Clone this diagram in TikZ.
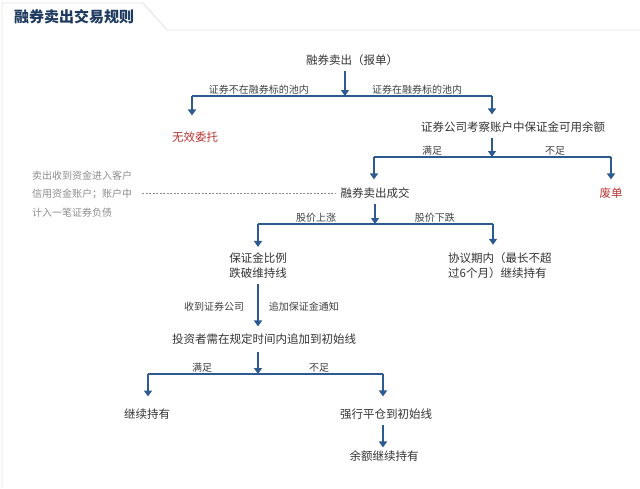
\documentclass[tikz,border=0pt]{standalone}
\usepackage{fontspec}
\setmainfont{Noto Sans CJK SC}
\usetikzlibrary{arrows.meta}
\definecolor{flow}{HTML}{2D5A91}
\definecolor{ttl}{HTML}{1E3A5F}
\definecolor{bad}{HTML}{B83232}

\begin{document}
\begin{tikzpicture}[x=1pt,y=-1pt,
   txt/.style={font=\fontsize{11.5}{15}\selectfont, text=black!80, inner sep=1pt},
   warn/.style={txt, text=bad},
   lab/.style={font=\fontsize{10}{12}\selectfont, text=black!75, inner sep=1pt},
   note/.style={font=\fontsize{10}{18.5}\selectfont, text=black!45, align=left, inner sep=0pt},
   bar/.style={flow, line width=1.6pt},
   arr/.style={bar, -{Triangle[width=8pt,length=6pt]}, shorten >=6pt},
   stem/.style={arr, shorten <=4pt, shorten >=0pt}]

   \useasboundingbox (0,0) rectangle (640,488);

   % frame and title
   \draw[black!12, line width=.8pt] (2,488) -- (2,3) -- (143,3) -- (167,30) -- (640,30);
   \node[anchor=west, font=\fontsize{15}{18}\selectfont\bfseries, text=ttl, inner sep=0pt] (title) at (14,17) {融券卖出交易规则};

   % steps
   \node[txt] (a) at (352,60) {融券卖出（报单）};
   \node[warn] (b) at (195,137) {无效委托};
   \node[txt] (c) at (513,127) {证券公司考察账户中保证金可用余额};
   \node[txt] (d) at (375,193) {融券卖出成交};
   \node[warn] (e) at (611,193) {废单};
   \node[txt, align=center] (f) at (258,266) {保证金比例\\跌破维持线};
   \node[txt, align=left, anchor=west] (g) at (447,266) {协议期内（最长不超\\过6个月）继续持有};
   \node[txt] (h) at (264,339) {投资者需在规定时间内追加到初始线};
   \node[txt] (i) at (147,414) {继续持有};
   \node[txt] (j) at (386,414) {强行平仓到初始线};
   \node[txt] (k) at (384,456) {余额继续持有};
   \node[note, anchor=west] (m) at (32,194) {卖出收到资金进入客户\\信用资金账户；账户中\\计入一笔证券负债};

   % split points
   \coordinate (p1) at (345,96);  \coordinate (p1l) at (192,96);  \coordinate (p1r) at (492,96);
   \coordinate (p2) at (492,157); \coordinate (p2l) at (374,157); \coordinate (p2r) at (611,157);
   \coordinate (p3) at (375,224); \coordinate (p3l) at (258,224); \coordinate (p3r) at (493,224);
   \coordinate (p4) at (258,374); \coordinate (p4l) at (148,374); \coordinate (p4r) at (383,374);

   % first split
   \draw[stem] (a.south -| p1) -- (p1);
   \draw[bar] (p1l) -- node[lab, above, pos=.223] {证券不在融券标的池内}
      node[lab, above, pos=.75] {证券在融券标的池内} (p1r);
   \draw[arr, shorten >=15pt] (p1l) -- (p1l |- b.north);
   \draw[arr] (p1r) -- (p1r |- c.north);

   % second split
   \draw[stem] (c.south -| p2) -- (p2);
   \draw[bar] (p2l) -- node[lab, above, pos=.245] {满足}
      node[lab, above, pos=.764] {不足} (p2r);
   \draw[arr, shorten >=7pt] (p2l) -- (p2l |- d.north);
   \draw[arr, shorten >=7pt] (p2r) -- (p2r |- e.north);

   \draw[black!45, line width=.5pt, dash pattern=on 2pt off 1.5pt, shorten <=10pt, shorten >=4pt]
      (m.east |- d) -- (d.west);

   % third split
   \draw[stem] (d.south -| p3) -- (p3);
   \draw[bar] (p3l) -- node[lab, above, pos=.247] {股价上涨}
      node[lab, above, pos=.753] {股价下跌} (p3r);
   \draw[arr, shorten >=5pt] (p3l) -- (p3l |- f.north);
   \draw[arr, shorten >=7pt] (p3r) -- (p3r |- g.north);

   \draw[stem, shorten >=6pt] (f.south) -- node[lab, left=12pt] {收到证券公司}
      node[lab, right=9pt] {追加保证金通知} (f.south |- h.north);

   % fourth split
   \draw[stem, shorten <=6pt] (h.south -| p4) -- (p4);
   \draw[bar] (p4l) -- node[lab, above, pos=.23] {满足}
      node[lab, above, pos=.728] {不足} (p4r);
   \draw[arr, shorten >=11pt] (p4l) -- (p4l |- i.north);
   \draw[arr, shorten >=11pt] (p4r) -- (p4r |- j.north);

   \draw[stem, shorten >=2pt] (j.south -| p4r) -- (p4r |- k.north);

\end{tikzpicture}
\end{document}
